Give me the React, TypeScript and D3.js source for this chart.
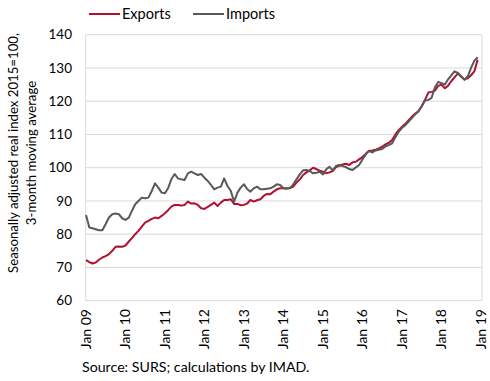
import React from "react";
import * as d3 from "d3";

const seriesNames = ["Exports", "Imports"];
const seriesColors = ["#b2102f", "#595959"];
const startYear = 2009;
const exportsValues = [
  72.2, 71.6, 71.2, 71.5, 72.3, 73, 73.4, 74, 75, 76.2, 76.3, 76.2,
  76.6, 77.8, 78.8, 80, 81, 82.3, 83.5, 84, 84.6, 85, 84.8, 85.5,
  86.3, 87.3, 88.3, 88.8, 88.8, 88.6, 88.8, 89.8, 89.2, 89.3, 88.8, 87.8,
  87.6, 88.2, 88.8, 89.5, 88.5, 89.5, 90.3, 90.3, 90.5, 89.1, 89.1, 88.7,
  88.8, 89.3, 90.3, 89.8, 90.2, 90.5, 91.5, 92.1, 92, 92.8, 93.5, 93.8,
  93.8, 93.7, 93.9, 94.3, 95.5, 96.5, 97.8, 98.6, 99.2, 100, 99.6, 99.1,
  98.8, 98.3, 98.6, 99, 100.2, 100.6, 101, 101.2, 100.8, 101.6, 101.8, 102.5,
  103.2, 104.2, 105.1, 105.2, 105.4, 105.8, 106.3, 107, 107.5, 108.3, 110, 111.3,
  112.3, 113.2, 114.2, 115.3, 116.2, 117, 118.5, 120.4, 122.6, 122.8, 123.2, 124.6,
  125, 123.9, 124.6, 126, 127.2, 128.4, 127.4, 126.6, 126.9, 127.8, 129, 132.5,
];
const importsValues = [
  85.8, 82, 81.8, 81.5, 81.2, 81.2, 83, 85, 86, 86.2, 86, 84.8,
  84.3, 85, 87, 89, 90, 91, 90.8, 91, 93, 95.3, 94, 92.5,
  92.3, 94, 96.5, 98.1, 96.8, 96.5, 96.3, 98.3, 98.8, 98.3, 97.8, 98.1,
  97, 96, 94.8, 93.5, 94, 94.3, 96.8, 94.5, 93, 89.8, 92.5, 94,
  95, 93.5, 92.8, 93.8, 94.3, 93.5, 93.5, 93.7, 93.8, 94.3, 95, 94.8,
  93.8, 93.8, 93.8, 95, 96.5, 98, 99.2, 99.3, 99, 98.3, 98.5, 98.8,
  98, 99.5, 100.3, 99.2, 100.5, 100.8, 100.5, 100.2, 99.6, 99.3, 100.1, 100.8,
  102.5, 104, 105, 104.6, 105.2, 105.4, 105.6, 106.4, 106.8, 107.3, 109.2, 110.8,
  112, 112.8, 113.8, 114.9, 116, 116.9, 118.4, 120.2, 120.4, 121, 124.2, 125.8,
  125.4, 125, 126.5, 127.8, 129, 128.5, 127.5, 126.4, 127.5, 130, 132.2, 133.2,
];
const yTicks = [60, 70, 80, 90, 100, 110, 120, 130, 140];
const xTickLabels = ["Jan 09", "Jan 10", "Jan 11", "Jan 12", "Jan 13", "Jan 14", "Jan 15", "Jan 16", "Jan 17", "Jan 18", "Jan 19"];
const yTitleLines = ["Seasonally adjusted real index 2015=100,", "3-month moving average"];
const sourceText = "Source: SURS; calculations by IMAD.";

const FONT = "Lato, 'Open Sans', sans-serif";

export default function App() {
  const W = 490, H = 381;
  const left = 85.7, right = 482, top = 34.7, bottom = 300.7;
  const x = d3.scaleTime()
    .domain([new Date(startYear, 0, 1), new Date(startYear + 10, 0, 1)])
    .range([86, 481]);
  const y = d3.scaleLinear().domain([60, 140]).range([bottom, top]);
  const dateOf = (i: number) => new Date(startYear, i, 1);
  const line = d3.line<number>()
    .x((_, i) => x(dateOf(i)))
    .y((d) => y(d));
  const series = [exportsValues, importsValues];
  const legendX = [89, 193];

  return (
    <svg width={W} height={H} style={{ position: "absolute", left: 0, top: 0 }} fontFamily={FONT}>
      <rect width={W} height={H} fill="#fff" />
      {yTicks.map((t) => (
        <line key={t} x1={left} x2={right} y1={y(t)} y2={y(t)} stroke="#d9d9d9" strokeWidth={1} />
      ))}
      <line x1={left} x2={left} y1={top} y2={bottom} stroke="#d9d9d9" strokeWidth={1} />
      <line x1={right} x2={right} y1={top} y2={bottom} stroke="#d9d9d9" strokeWidth={1} />
      {yTicks.map((t) => (
        <text key={t} x={72} y={y(t)} dy="0.35em" textAnchor="end" fontSize={13.5} fill="#000">
          {t}
        </text>
      ))}
      {xTickLabels.map((lab, i) => {
        const xx = x(new Date(startYear + i, 0, 1));
        return (
          <text key={lab} transform={`translate(${xx},309) rotate(-90)`} textAnchor="end" dy="0.35em" fontSize={14} fill="#000">
            {lab}
          </text>
        );
      })}
      {yTitleLines.map((l, i) => (
        <text key={l} transform={`translate(${13 + i * 18},153) rotate(-90)`} textAnchor="middle" dy="0.35em" fontSize={13.2} fill="#000">
          {l}
        </text>
      ))}
      {series.map((s, k) => (
        <path key={k} d={line(s) || ""} fill="none" stroke={seriesColors[k]} strokeWidth={2} strokeLinejoin="round" />
      ))}
      {seriesNames.map((n, k) => (
        <g key={n}>
          <line x1={legendX[k]} x2={legendX[k] + 31} y1={14} y2={14} stroke={seriesColors[k]} strokeWidth={2} />
          <text x={legendX[k] + 33} y={14} dy="0.35em" fontSize={14.5} fill="#000">{n}</text>
        </g>
      ))}
      <text x={82} y={372} fontSize={14.2} fill="#000">{sourceText}</text>
    </svg>
  );
}
